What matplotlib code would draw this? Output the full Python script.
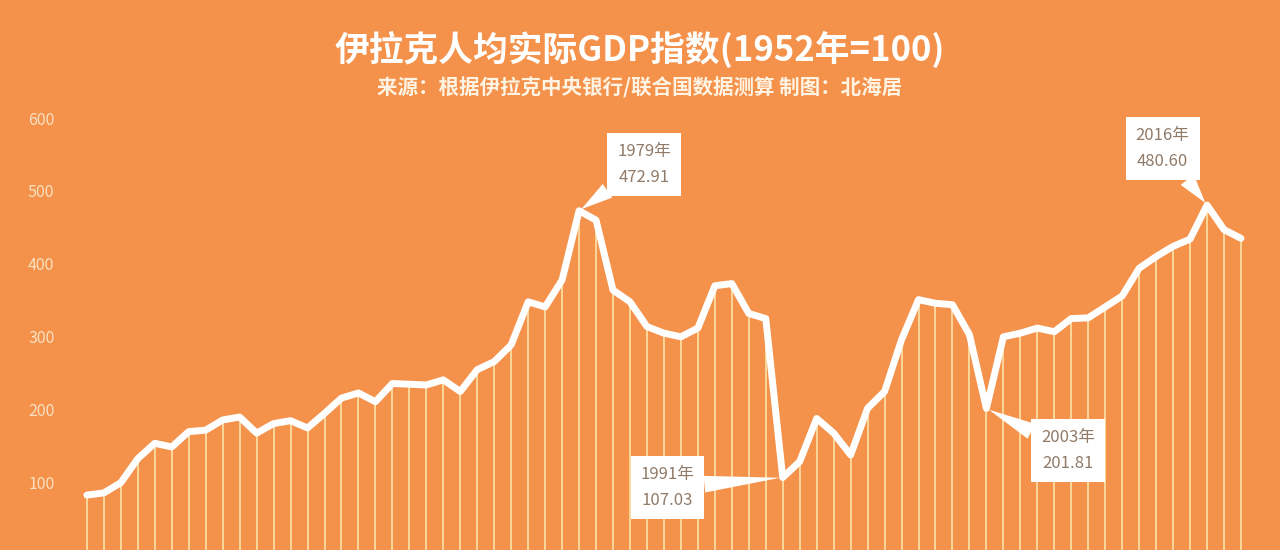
import matplotlib.pyplot as plt

plt.rcParams['font.family'] = ['Noto Sans CJK SC', 'DejaVu Sans']

years = list(range(1950, 2019))
gdp_index = [
    83, 86, 100, 133, 154, 149, 170, 172, 186, 190,
    168, 181, 185, 175, 195, 216, 223, 211, 236, 235,
    234, 241, 225, 255, 266, 289, 348, 341, 378, 472.91,
    460, 364, 348, 314, 305, 300, 312, 370, 373, 332,
    325, 107.03, 129, 188, 168, 138, 202, 225, 296, 351,
    346, 344, 303, 201.81, 300, 305, 312, 307, 325, 326,
    341, 356, 394, 410, 424, 434, 480.60, 447, 435,
]
y_ticks = [0, 100, 200, 300, 400, 500, 600]

# 标注点: 年份, 数值, 文本偏移(points)
notes_year = [1979, 1991, 2003, 2016]
notes_val = [472.91, 107.03, 201.81, 480.60]
notes_offset = [(47, 33), (-83, -7), (59, -30), (-32, 41)]

bg = '#F4914A'
fig = plt.figure(figsize=(12.8, 5.5), dpi=100, facecolor=bg)
ax = fig.add_axes([0.048, -0.0102, 0.9414, 0.7956])
ax.set_facecolor(bg)

# 垂直细线
ax.vlines(years, 0, gdp_index, colors='#FCE3A8', linewidth=1.2, zorder=2)
# 主折线
ax.plot(years, gdp_index, color='white', linewidth=5, solid_joinstyle='round',
        solid_capstyle='round', zorder=3)

ax.set_xlim(1948.5, 2019.5)
ax.set_ylim(0, 600)
ax.set_yticks(y_ticks)
ax.set_yticklabels([str(t) for t in y_ticks])
ax.set_xticks([])
ax.tick_params(axis='y', length=0, pad=5, labelcolor='#F9E2C2', labelsize=11.5)
for s in ax.spines.values():
    s.set_visible(False)

for yr, v, off in zip(notes_year, notes_val, notes_offset):
    ax.annotate(f'{yr}年\n{v:.2f}', xy=(yr, v), xytext=off, textcoords='offset points',
                ha='center', va='center', fontsize=12, color='#907A68', linespacing=1.7,
                bbox=dict(boxstyle='square,pad=0.6', fc='white', ec='none'),
                arrowprops=dict(arrowstyle='wedge,tail_width=1.0,shrink_factor=0.5',
                                fc='white', ec='none', shrinkA=0, shrinkB=2),
                zorder=5)

fig.text(0.5, 0.909, '伊拉克人均实际GDP指数(1952年=100)', ha='center', va='center',
         fontsize=25, fontweight='bold', color='white')
fig.text(0.5, 0.84, '来源：根据伊拉克中央银行/联合国数据测算 制图：北海居', ha='center',
         va='center', fontsize=14.8, fontweight='bold', color='#FFF4E4', style='italic')

fig.savefig('out.png', dpi=100, facecolor=bg)
